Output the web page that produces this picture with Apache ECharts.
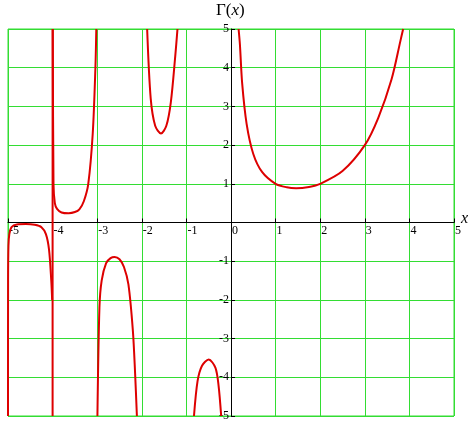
<!DOCTYPE html><html><head><meta charset="utf-8"><script src="https://cdn.jsdelivr.net/npm/echarts@6/dist/echarts.min.js"></script>
<style>html,body{margin:0;padding:0;background:#fff}#c{width:474px;height:428px}</style></head><body><div id="c"></div><script>
const xTicks=[-5,-4,-3,-2,-1,0,1,2,3,4,5];
const branchA=[[-5,-5],[-4.998,-1.5],[-4.99,-0.6],[-4.97,-0.3],[-4.92,-0.12],[-4.8,-0.05],[-4.6,-0.04],[-4.4,-0.06],[-4.25,-0.12],[-4.15,-0.3],[-4.08,-0.7],[-4.03,-1.5],[-4.01,-2]];
const branchB=[[-4,-5],[-4,5]];
const branchC=[[-3.995,5],[-3.98,1.0],[-3.95,0.5],[-3.9,0.35],[-3.8,0.26],[-3.64,0.24],[-3.5,0.27],[-3.4,0.34],[-3.3,0.55],[-3.2,1.0],[-3.1,2.3],[-3.04,4.0],[-3.02,5]];
const branchD=[[-2.995,-5],[-2.95,-2.2],[-2.9,-1.5],[-2.8,-1.05],[-2.7,-0.92],[-2.61,-0.89],[-2.5,-0.95],[-2.4,-1.15],[-2.3,-1.6],[-2.2,-2.8],[-2.15,-3.9],[-2.11,-5]];
const branchE=[[-1.88,5],[-1.8,3.2],[-1.7,2.5],[-1.57,2.3],[-1.45,2.5],[-1.35,3.1],[-1.25,4.3],[-1.2,5]];
const branchF=[[-0.83,-5],[-0.75,-4.1],[-0.65,-3.7],[-0.5,-3.54],[-0.35,-3.75],[-0.28,-4.2],[-0.22,-5]];
const branchG=[[0.17,5],[0.2,4.6],[0.25,3.6],[0.35,2.55],[0.5,1.77],[0.7,1.3],[1,1],[1.25,0.91],[1.46,0.886],[1.75,0.92],[2,1],[2.5,1.33],[3,2],[3.3,2.7],[3.6,3.7],[3.8,4.7],[3.86,5]];
const branches=[branchA,branchB,branchC,branchD,branchE,branchF,branchG];
const font='"Liberation Serif", serif';
const chart=echarts.init(document.getElementById('c'));
chart.setOption({
 animation:false,
 grid:{left:8,right:20,top:29,bottom:12,show:true,borderColor:'#33dd33',borderWidth:1},
 xAxis:{type:'value',min:-5,max:5,interval:1,position:'bottom',offset:-193.5,
  axisLine:{onZero:false,lineStyle:{color:'#000'}},axisTick:{show:true,inside:true,length:4,lineStyle:{color:'#000'}},
  axisLabel:{fontFamily:font,fontSize:12,color:'#000',margin:2,align:'left',padding:[0,0,0,1]},
  splitLine:{lineStyle:{color:'#33dd33',width:1}}},
 yAxis:{type:'value',min:-5,max:5,interval:1,position:'left',offset:-223,
  axisLine:{onZero:false,lineStyle:{color:'#000'}},axisTick:{show:true,inside:true,length:4,lineStyle:{color:'#000'}},
  axisLabel:{fontFamily:font,fontSize:12,color:'#000',margin:2,formatter:v=>v===0?'':String(v)},
  splitLine:{lineStyle:{color:'#33dd33',width:1}}},
 graphic:[
  {type:'text',left:216,top:2,style:{text:'Γ({i|x})',rich:{i:{fontStyle:'italic',fontSize:17,fontFamily:font}},font:'17px "Liberation Serif", serif',fill:'#000'}},
  {type:'text',left:461,top:211,style:{text:'x',font:'italic 16px "Liberation Serif", serif',fill:'#000'}}
 ],
 series:branches.map(b=>({type:'line',data:b,showSymbol:false,smooth:0.3,lineStyle:{color:'#dd0000',width:2},clip:true}))
});
</script></body></html>
